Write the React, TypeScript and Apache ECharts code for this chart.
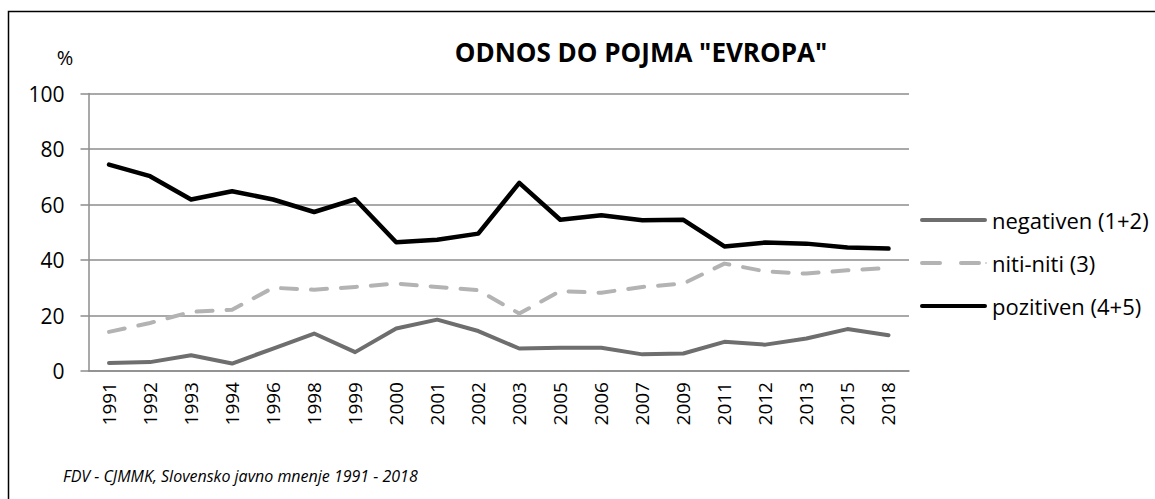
import React, { useEffect, useRef } from "react";
import * as echarts from "echarts";

const years = ["1991","1992","1993","1994","1996","1998","1999","2000","2001","2002","2003","2005","2006","2007","2009","2011","2012","2013","2015","2018"];
const negativen = [2.9,3.2,5.7,2.7,8.1,13.5,6.8,15.3,18.5,14.4,8.1,8.4,8.4,6.0,6.3,10.5,9.5,11.7,15.1,12.9];
const nitiNiti = [14.1,17.3,21.3,22.1,30.0,29.3,30.3,31.5,30.3,29.1,20.7,28.8,28.2,30.3,31.5,38.7,35.9,35.1,36.3,37.1];
const pozitiven = [74.4,70.2,61.8,64.8,61.8,57.3,61.9,46.4,47.3,49.5,67.8,54.5,56.1,54.3,54.5,44.9,46.3,45.9,44.5,44.1];
const yTicks = { min: 0, max: 100, interval: 20 };
const seriesNames = ["negativen (1+2)", "niti-niti (3)", "pozitiven (4+5)"];
const titleText = 'ODNOS DO POJMA "EVROPA"';
const footerText = "FDV - CJMMK, Slovensko javno mnenje 1991 - 2018";

const FONT = "'Open Sans', sans-serif";
const solidIcon = "path://M2,0 L65,0 A2,2 0 0 1 65,4 L2,4 A2,2 0 0 1 2,0 Z";
const dashIcon = "path://M2,0 L20,0 A2,2 0 0 1 20,4 L2,4 A2,2 0 0 1 2,0 Z M41,0 L59,0 A2,2 0 0 1 59,4 L41,4 A2,2 0 0 1 41,0 Z M65,1.5 L67,1.5 L67,2.5 L65,2.5 Z";

export default function App() {
  const ref = useRef<HTMLDivElement>(null);
  useEffect(() => {
    if (!ref.current) return;
    const chart = echarts.init(ref.current, null, { renderer: "svg" });
    chart.setOption({
      animation: false,
      backgroundColor: "#fff",
      textStyle: { fontFamily: FONT },
      title: {
        text: titleText,
        left: 636,
        textAlign: "center",
        top: 34,
        textStyle: { fontSize: 26, fontWeight: "bold", color: "#000", fontFamily: FONT },
      },
      grid: { left: 88.5, right: 246, top: 93.5, bottom: 128, containLabel: false },
      legend: {
        orient: "vertical",
        left: 915,
        top: 204,
        itemWidth: 67,
        itemHeight: 4,
        itemGap: 21,
        textStyle: { fontSize: 22, color: "#000", fontFamily: FONT },
        data: [
          { name: seriesNames[0], icon: solidIcon, itemStyle: { color: "#6e6e6e" } },
          { name: seriesNames[1], icon: dashIcon, itemStyle: { color: "#b3b3b3" } },
          { name: seriesNames[2], icon: solidIcon, itemStyle: { color: "#000" } },
        ],
      },
      xAxis: {
        type: "category",
        data: years,
        boundaryGap: true,
        axisLine: { lineStyle: { color: "#8c8c8c", width: 1.5 } },
        axisTick: { length: 6, lineStyle: { color: "#8c8c8c", width: 1.5 } },
        axisLabel: { rotate: 90, fontSize: 19, color: "#000", margin: 11, interval: 0, fontFamily: FONT },
        splitLine: { show: false },
      },
      yAxis: {
        type: "value",
        min: yTicks.min,
        max: yTicks.max,
        interval: yTicks.interval,
        axisLine: { show: true, lineStyle: { color: "#8c8c8c", width: 1.5 } },
        axisTick: { show: true, length: 8, lineStyle: { color: "#8c8c8c", width: 1.5 } },
        axisLabel: { fontSize: 21, color: "#000", margin: 24, fontFamily: FONT },
        splitLine: { lineStyle: { color: "#8c8c8c", width: 1.5 } },
      },
      series: [
        {
          name: seriesNames[0],
          type: "line",
          data: negativen,
          symbol: "none",
          lineStyle: { color: "#6e6e6e", width: 4, cap: "round", join: "round" },
          itemStyle: { color: "#6e6e6e" },
        },
        {
          name: seriesNames[1],
          type: "line",
          data: nitiNiti,
          symbol: "none",
          lineStyle: { color: "#b3b3b3", width: 4, type: [16, 14], cap: "round", join: "round" },
          itemStyle: { color: "#b3b3b3" },
        },
        {
          name: seriesNames[2],
          type: "line",
          data: pozitiven,
          symbol: "none",
          lineStyle: { color: "#000", width: 4.5, cap: "round", join: "round" },
          itemStyle: { color: "#000" },
        },
      ],
      graphic: [
        {
          type: "rect",
          shape: { x: 8.5, y: 11.5, width: 1200, height: 600 },
          style: { fill: "none", stroke: "#000", lineWidth: 1.5 },
          silent: true,
        },
        {
          type: "text",
          x: 65,
          y: 57,
          style: { text: "%", fontSize: 20, fill: "#000", fontFamily: FONT, textAlign: "center", textVerticalAlign: "middle" },
        },
        {
          type: "text",
          x: 63,
          y: 476,
          style: { text: footerText, fontSize: 16, fontStyle: "italic", fill: "#000", fontFamily: FONT, textVerticalAlign: "middle" },
        },
      ],
    });
    return () => chart.dispose();
  }, []);
  return <div ref={ref} style={{ width: 1155, height: 499, position: "absolute", left: 0, top: 0 }} />;
}
